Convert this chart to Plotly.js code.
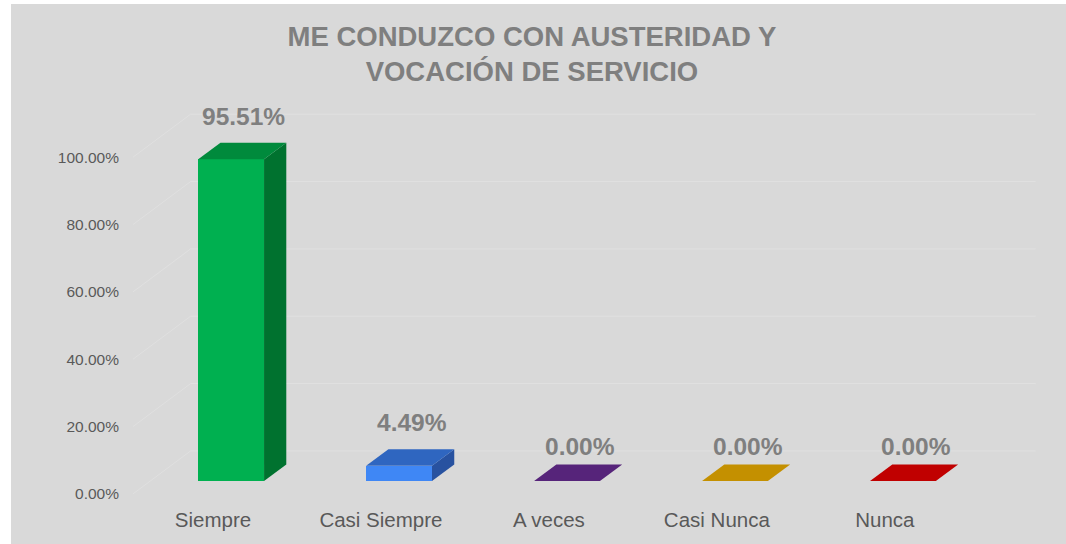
<!DOCTYPE html>
<html><head><meta charset="utf-8">
<script src="https://cdn.plot.ly/plotly-3.0.1.min.js"></script>
<style>
html,body{margin:0;padding:0;background:#ffffff;}
#chart{position:absolute;left:11px;top:4px;width:1055px;height:540px;}
</style></head>
<body><div id="chart"></div>
<script>
// ---- data ----
const categories = ["Siempre", "Casi Siempre", "A veces", "Casi Nunca", "Nunca"];
const values = [95.51, 4.49, 0.00, 0.00, 0.00];
const yTicks = [0, 20, 40, 60, 80, 100];
const yTickText = ["0.00%", "20.00%", "40.00%", "60.00%", "80.00%", "100.00%"];
const chartTitle = "ME CONDUZCO CON AUSTERIDAD Y<br>VOCACIÓN DE SERVICIO";

// ---- styles ----
const frontColors = ["#00b050", "#3f87f5", "#56247a", "#c49000", "#c00000"];
const topColors   = ["#008a3c", "#2f66c0", "#56247a", "#c49000", "#c00000"];
const sideColors  = ["#00722f", "#2852a0", "#3f1a5c", "#94700a", "#900000"];

// 3D geometry constants (axis units)
const BAR_DX = 0.108, BAR_BASE = 3.86;   // bar plane offset from label plane
const BAR_W = 0.392;                     // bar width
const DEP_X = 0.1325, DEP_Y = 4.9;       // bar depth vector
const WALL_X = 0.343, WALL_Y = 12.77;    // back wall offset
const XL = -0.476, XR_WALL = 4.898;

const traces = [];
const gridColor = "#e0e0e0";

// back wall and side wall gridlines (below the data)
const shapes = yTicks.map(t => ({
  type:"path", xref:"x", yref:"y", layer:"below",
  path:`M ${XL} ${t} L ${XL+WALL_X} ${t+WALL_Y} L ${XR_WALL} ${t+WALL_Y}`,
  line:{color:gridColor, width:1}
}));

// bars: front face as bar trace
const xs = categories.map((c,i)=> i + BAR_DX);
traces.push({type:"bar", x:xs, y:values, base:values.map(()=>BAR_BASE), width:BAR_W,
  marker:{color:frontColors, line:{width:0}}, hoverinfo:"skip", showlegend:false});

// top and side faces
values.forEach((v,i)=>{
  const xl = xs[i]-BAR_W/2, xr = xs[i]+BAR_W/2;
  const y0 = BAR_BASE, y1 = BAR_BASE+v;
  if (v > 0) {
    traces.push({type:"scatter", mode:"lines", fill:"toself",
      x:[xr, xr+DEP_X, xr+DEP_X, xr, xr], y:[y0, y0+DEP_Y, y1+DEP_Y, y1, y0],
      fillcolor:sideColors[i], line:{width:0, color:sideColors[i]}, hoverinfo:"skip", showlegend:false});
  }
  traces.push({type:"scatter", mode:"lines", fill:"toself",
    x:[xl, xr, xr+DEP_X, xl+DEP_X, xl], y:[y1, y1, y1+DEP_Y, y1+DEP_Y, y1],
    fillcolor:topColors[i], line:{width:0, color:topColors[i]}, hoverinfo:"skip", showlegend:false});
});

// data labels
const pxPerUnit = 431/128;
const annotations = values.map((v,i)=>({
  x: xs[i] + 0.075, y: BAR_BASE + v + (v>0 ? 43 : 34)/pxPerUnit,
  xref:"x", yref:"y", text: v.toFixed(2) + "%", showarrow:false,
  xanchor:"center", yanchor:"middle",
  font:{family:"Liberation Sans, Arial, sans-serif", size:24.5, color:"#7f7f7f", weight:"bold"}
}));

const layout = {
  width:1055, height:540,
  paper_bgcolor:"#d9d9d9", plot_bgcolor:"rgba(0,0,0,0)",
  margin:{l:118, r:25, t:69, b:40},
  title:{text:"<b>"+chartTitle+"</b>", x:0.4938, xanchor:"center", xref:"container",
    y:0.923, yanchor:"middle", yref:"container",
    font:{family:"Liberation Sans, Arial, sans-serif", size:27.5, color:"#7f7f7f"}},
  xaxis:{range:[-0.5, 4.93], tickvals:categories.map((c,i)=>i), ticktext:categories,
    showgrid:false, zeroline:false, showline:false, ticks:"", ticklabelstandoff:1,
    tickfont:{family:"Liberation Sans, Arial, sans-serif", size:20.5, color:"#595959"}, fixedrange:true},
  yaxis:{range:[-3, 125], tickvals:yTicks, ticktext:yTickText,
    showgrid:false, zeroline:false, showline:false, ticks:"", ticklabelstandoff:9,
    tickfont:{family:"Liberation Sans, Arial, sans-serif", size:15.5, color:"#595959"}, fixedrange:true},
  shapes:shapes,
  annotations:annotations,
  showlegend:false, bargap:0
};
Plotly.newPlot("chart", traces, layout, {displayModeBar:false, staticPlot:true});
</script></body></html>
